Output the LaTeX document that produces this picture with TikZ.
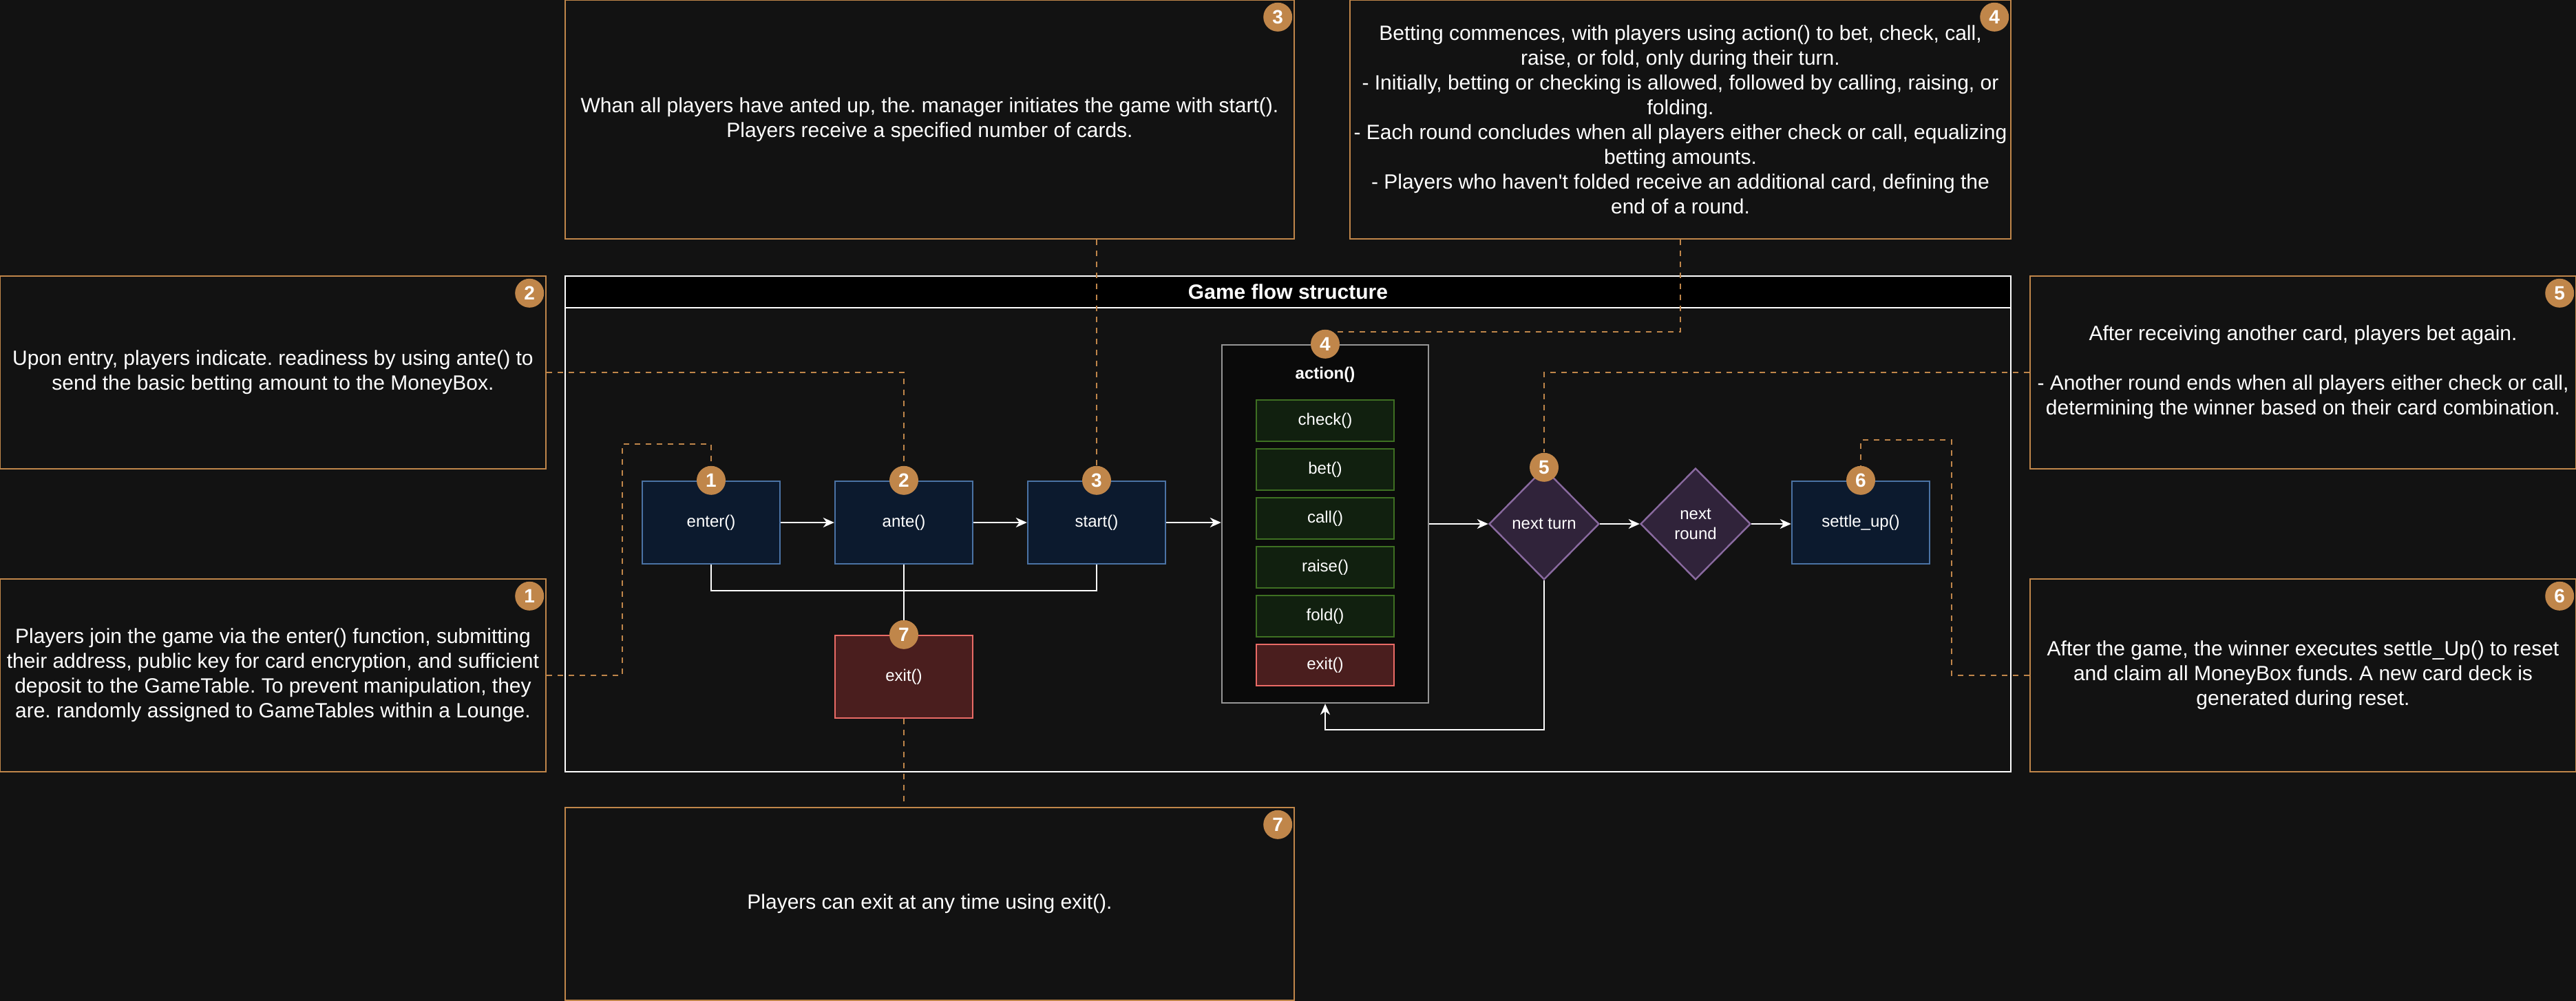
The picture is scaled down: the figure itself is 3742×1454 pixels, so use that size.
\documentclass[tikz,border=0pt]{standalone}
\usepackage{fontspec}
\setmainfont{Liberation Sans}
\usetikzlibrary{shapes.geometric,arrows.meta}
\frenchspacing
\definecolor{bgColor}{RGB}{18,18,18}
\definecolor{noteColor}{RGB}{192,134,74}
\definecolor{funcFill}{RGB}{12,26,46}
\definecolor{funcLine}{RGB}{75,115,165}
\definecolor{moveFill}{RGB}{17,32,15}
\definecolor{moveLine}{RGB}{62,112,34}
\definecolor{exitFill}{RGB}{74,30,30}
\definecolor{exitLine}{RGB}{234,107,102}
\definecolor{turnFill}{RGB}{48,35,58}
\definecolor{turnLine}{RGB}{138,106,160}
\definecolor{actionFill}{RGB}{10,10,10}
\definecolor{actionLine}{RGB}{150,150,150}
\tikzstyle{canvas} = [x = .5pt, y = -.5pt]
\tikzstyle{noteStyle} = [draw=noteColor, line width=1.2pt, fill=bgColor, text=white, align=center, inner sep=0pt, font=\fontsize{15}{18}\selectfont]
\tikzstyle{badgeStyle} = [circle, fill=noteColor, text=white, minimum size=21pt, inner sep=0pt, font=\bfseries\fontsize{14}{14}\selectfont]
\tikzstyle{funcStyle} = [draw=funcLine, fill=funcFill, line width=1.2pt, text=white, minimum width=100pt, minimum height=60pt, inner sep=0pt, font=\fontsize{12}{14.5}\selectfont]
\tikzstyle{moveStyle} = [funcStyle, draw=moveLine, fill=moveFill, minimum height=30pt]
\tikzstyle{exitStyle} = [funcStyle, draw=exitLine, fill=exitFill]
\tikzstyle{actionStyle} = [draw=actionLine, fill=actionFill, line width=1.2pt, minimum width=150pt, minimum height=260pt]
\tikzstyle{turnStyle} = [diamond, draw=turnLine, fill=turnFill, line width=1.2pt, text=white, align=center, minimum width=80pt, minimum height=81pt, inner sep=0pt, font=\fontsize{12}{14.5}\selectfont]
\tikzstyle{frameStyle} = [draw=white, line width=1.2pt, inner sep=0pt]
\tikzstyle{flowLine} = [draw=white, line width=1.2pt]
\tikzstyle{flowArrow} = [flowLine, -{Stealth[length=8pt, width=7pt, inset=2.5pt]}]
\tikzstyle{hintLine} = [draw=noteColor, line width=1.2pt, dash pattern=on 4pt off 4pt]
\newcommand{\noteBox}[6]{
  \node [noteStyle, minimum width=#4*.5pt, minimum height=#5*.5pt] (note#1) at (#2,#3) {#6};
  \node [badgeStyle] (noteBadge#1) at ([xshift=-12.5pt, yshift=-13pt]note#1.north east) {#1};
}
\newcommand{\stepBadge}[2]{\node [badgeStyle] (b#1) at (#2.north) {#1};}

\begin{document}
\begin{tikzpicture}[canvas]
  \fill [bgColor] (0,0) rectangle (3742,1454);
  \useasboundingbox (0,0) rectangle (3742,1454);

  % game frame
  \node [frameStyle, minimum width=1050pt, minimum height=360pt] (gameFrame) at (1871,761) {};
  \node [frameStyle, fill=black, text=white, minimum width=1050pt, minimum height=23pt, anchor=north, font=\bfseries\fontsize{15}{18}\selectfont] (gameTitle) at (gameFrame.north) {Game flow structure};

  % notes
  \noteBox{1}{396.5}{981}{793}{280}{Players join the game via the enter() function, submitting\\their address, public key for card encryption, and sufficient\\deposit to the GameTable. To prevent manipulation, they\\are. randomly assigned to GameTables within a Lounge.}
  \noteBox{2}{396.5}{541}{793}{280}{Upon entry, players indicate. readiness by using ante() to\\send the basic betting amount to the MoneyBox.}
  \noteBox{3}{1350.5}{173.5}{1059}{347}{Whan all players have anted up, the. manager initiates the game with start().\\Players receive a specified number of cards.}
  \noteBox{4}{2441}{173.5}{960}{347}{Betting commences, with players using action() to bet, check, call,\\raise, or fold, only during their turn.\\- Initially, betting or checking is allowed, followed by calling, raising, or\\folding.\\- Each round concludes when all players either check or call, equalizing\\betting amounts.\\- Players who haven\textquotesingle t folded receive an additional card, defining the\\end of a round.}
  \noteBox{5}{3345.5}{541}{793}{280}{After receiving another card, players bet again.\\[18pt]- Another round ends when all players either check or call,\\determining the winner based on their card combination.}
  \noteBox{6}{3345.5}{981}{793}{280}{After the game, the winner executes settle\_Up() to reset\\and claim all MoneyBox funds. A new card deck is\\generated during reset.}
  \noteBox{7}{1350.5}{1313}{1059}{280}{Players can exit at any time using exit().}

  % flow
  \node [funcStyle] (enter) at (1033,759) {enter()};
  \node [funcStyle] (ante) at (1313,759) {ante()};
  \node [funcStyle] (start) at (1593,759) {start()};
  \node [exitStyle] (exit) at (1313,983) {exit()};
  \node [actionStyle] (action) at (1925,761) {};
  \node [text=white, font=\bfseries\fontsize{12}{14.5}\selectfont] (actionTitle) at (1925,544) {action()};
  \foreach \move/\y in {check/611, bet/682, call/753, raise/824, fold/895} {
    \node [moveStyle] (\move) at (1925,\y) {\move()};
  }
  \node [exitStyle, minimum height=30pt] (quit) at (1925,966) {exit()};
  \node [turnStyle] (turn) at (2243,761) {next turn};
  \node [turnStyle] (round) at (2463,761) {next\\round};
  \node [funcStyle] (settle) at (2703,759) {settle\_up()};

  \coordinate (exitJoin) at (1313,858);
  \coordinate (loopCorner) at (2243,1060);
  \draw [flowArrow] (enter) -- (ante);
  \draw [flowArrow] (ante) -- (start);
  \draw [flowArrow] (start.east) -- (start.east -| action.west);
  \draw [flowArrow] (action.east) -- (turn.west);
  \draw [flowArrow] (turn) -- (round);
  \draw [flowArrow] (round.east) -- (round.east -| settle.west);
  \draw [flowLine] (enter.south) |- (exitJoin) -| (start.south);
  \draw [flowArrow] (ante.south) -- (exit.north);
  \draw [flowArrow] (turn.south) -- (loopCorner) -| (action.south);

  % step badges
  \stepBadge{1}{enter}
  \stepBadge{2}{ante}
  \stepBadge{3}{start}
  \stepBadge{4}{action}
  \stepBadge{5}{turn}
  \stepBadge{6}{settle}
  \stepBadge{7}{exit}

  % hints
  \draw [hintLine] (note1.east) -- ++(110,0) -- ++(0,-336) -| (b1.north);
  \draw [hintLine] (note2.east) -| (b2.north);
  \draw [hintLine] (b3.north |- note3.south) -- (b3.north);
  \draw [hintLine] (note4.south) -- ++(0,134) -| (b4.north);
  \draw [hintLine] (note5.west) -| (b5.north);
  \draw [hintLine] (note6.west) -- ++(-113,0) -- ++(0,-342) -| (b6.north);
  \draw [hintLine] (exit.south) -- (exit.south |- note7.north);
\end{tikzpicture}
\end{document}
